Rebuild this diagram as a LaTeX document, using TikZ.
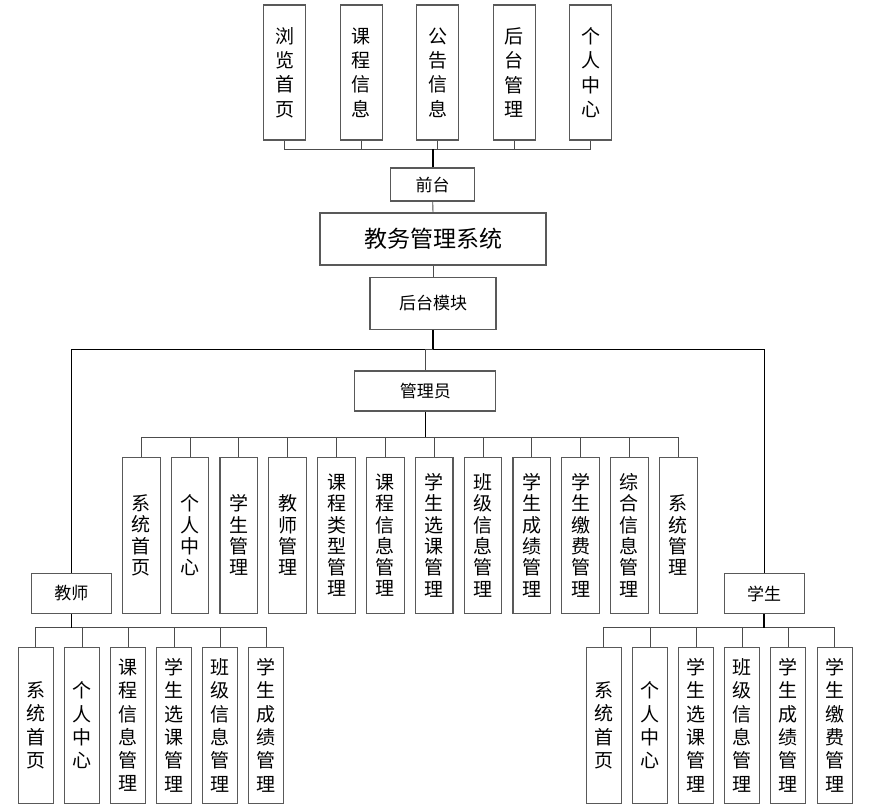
\documentclass[tikz,border=0pt]{standalone}
\usepackage{fontspec}
\setmainfont{Noto Sans CJK SC}
\usepackage{tikz}
\usetikzlibrary{positioning}

\begin{document}
\begin{tikzpicture}[x=1pt, y=-1pt,
      box/.style={draw=black!65, line width=1.1pt, fill=white, inner sep=0pt, align=center},
      hbox/.style={box, font=\fontsize{17}{20}\selectfont},
      topbox/.style={box, minimum width=42, minimum height=135, font=\fontsize{19}{24.4}\selectfont},
      admbox/.style={box, minimum width=37.7, minimum height=156, font=\fontsize{19}{21.3}\selectfont},
      subbox/.style={box, minimum width=35, minimum height=156, font=\fontsize{19}{23.3}\selectfont},
      link/.style={draw=black!70, line width=0.9pt},
      stem/.style={draw=black, line width=1.6pt},
    ]
    \useasboundingbox (0,0) rectangle (889,811);

    % front end
    \node[topbox] (t1) at (284.5,72.5) {浏\\览\\首\\页};
    \node[topbox] (t2) at (361.1,72.5) {课\\程\\信\\息};
    \node[topbox] (t3) at (437.8,72.5) {公\\告\\信\\息};
    \node[topbox] (t4) at (514.2,72.5) {后\\台\\管\\理};
    \node[topbox] (t5) at (590.8,72.5) {个\\人\\中\\心};
    \node[hbox, minimum width=84, minimum height=33] (front) at (432.7,184.5) {前台};
    \coordinate (topbus) at (432.7,149);

    \node[box, minimum width=226, minimum height=52, font=\fontsize{23}{26}\selectfont] (sys) at (433,239) {教务管理系统};
    \node[hbox, minimum width=126, minimum height=52] (back) at (433,303.5) {后台模块};
    \coordinate (mbus) at (433,349.3);

    % admin
    \node[hbox, minimum width=141, minimum height=40] (admin) at (425.3,391) {管理员};
    \coordinate (abus) at (425.3,437.3);
    \node[admbox] (a1)  at (141.2,535.3) {系\\统\\首\\页};
    \node[admbox] (a2)  at (190.0,535.3) {个\\人\\中\\心};
    \node[admbox] (a3)  at (238.8,535.3) {学\\生\\管\\理};
    \node[admbox] (a4)  at (287.7,535.3) {教\\师\\管\\理};
    \node[admbox] (a5)  at (336.5,535.3) {课\\程\\类\\型\\管\\理};
    \node[admbox] (a6)  at (385.3,535.3) {课\\程\\信\\息\\管\\理};
    \node[admbox] (a7)  at (434.1,535.3) {学\\生\\选\\课\\管\\理};
    \node[admbox] (a8)  at (483.0,535.3) {班\\级\\信\\息\\管\\理};
    \node[admbox] (a9)  at (531.8,535.3) {学\\生\\成\\绩\\管\\理};
    \node[admbox] (a10) at (580.6,535.3) {学\\生\\缴\\费\\管\\理};
    \node[admbox] (a11) at (629.4,535.3) {综\\合\\信\\息\\管\\理};
    \node[admbox] (a12) at (678.2,535.3) {系\\统\\管\\理};

    % teacher
    \node[hbox, minimum width=79.5, minimum height=40] (teacher) at (71.3,593.5) {教师};
    \coordinate (tbus) at (71.3,627.7);
    \node[subbox] (c1) at (35.7,725.3)  {系\\统\\首\\页};
    \node[subbox] (c2) at (82.0,725.3)  {个\\人\\中\\心};
    \node[subbox] (c3) at (128.0,725.3) {课\\程\\信\\息\\管\\理};
    \node[subbox] (c4) at (174.0,725.3) {学\\生\\选\\课\\管\\理};
    \node[subbox] (c5) at (220.0,725.3) {班\\级\\信\\息\\管\\理};
    \node[subbox] (c6) at (266.3,725.3) {学\\生\\成\\绩\\管\\理};

    % student
    \node[hbox, minimum width=80, minimum height=40] (student) at (764.2,593.5) {学生};
    \coordinate (sbus) at (764.2,627.7);
    \node[subbox] (s1) at (603.7,725.3) {系\\统\\首\\页};
    \node[subbox] (s2) at (650.0,725.3) {个\\人\\中\\心};
    \node[subbox] (s3) at (696.0,725.3) {学\\生\\选\\课\\管\\理};
    \node[subbox] (s4) at (742.2,725.3) {班\\级\\信\\息\\管\\理};
    \node[subbox] (s5) at (788.2,725.3) {学\\生\\成\\绩\\管\\理};
    \node[subbox] (s6) at (834.7,725.3) {学\\生\\缴\\费\\管\\理};

    % connectors
    \draw[link] (t1.south) |- (topbus);
    \draw[link] (t2.south) |- (topbus);
    \draw[link] (t3.south) |- (topbus);
    \draw[link] (t5.south) |- (topbus);
    \draw[link] (t4.south) |- (topbus);
    \draw[stem] (front.north) -- (topbus);
    \draw[link] (front.south) -- (sys.north);
    \draw[link] (sys.south) -- (back.north);
    \draw[stem] (back.south) -- (mbus);
    \draw[link, draw=black] (teacher.north) |- (mbus);
    \draw[link, draw=black] (student.north) |- (mbus);
    \draw[link] (admin.north) |- (mbus);

    \draw[link] (a1.north) |- (abus);
    \draw[link] (a2.north) |- (abus);
    \draw[link] (a3.north) |- (abus);
    \draw[link] (a4.north) |- (abus);
    \draw[link] (a5.north) |- (abus);
    \draw[link] (a6.north) |- (abus);
    \draw[link] (a7.north) |- (abus);
    \draw[link] (a8.north) |- (abus);
    \draw[link] (a9.north) |- (abus);
    \draw[link] (a10.north) |- (abus);
    \draw[link] (a11.north) |- (abus);
    \draw[link] (a12.north) |- (abus);
    \draw[stem] (admin.south) -- (abus);

    \draw[link] (c1.north) |- (tbus);
    \draw[link] (c2.north) |- (tbus);
    \draw[link] (c3.north) |- (tbus);
    \draw[link] (c4.north) |- (tbus);
    \draw[link] (c5.north) |- (tbus);
    \draw[link] (c6.north) |- (tbus);
    \draw[stem] (teacher.south) -- (tbus);

    \draw[link] (s1.north) |- (sbus);
    \draw[link] (s2.north) |- (sbus);
    \draw[link] (s3.north) |- (sbus);
    \draw[link] (s4.north) |- (sbus);
    \draw[link] (s5.north) |- (sbus);
    \draw[link] (s6.north) |- (sbus);
    \draw[stem] (student.south) -- (sbus);
  \end{tikzpicture}
\end{document}
